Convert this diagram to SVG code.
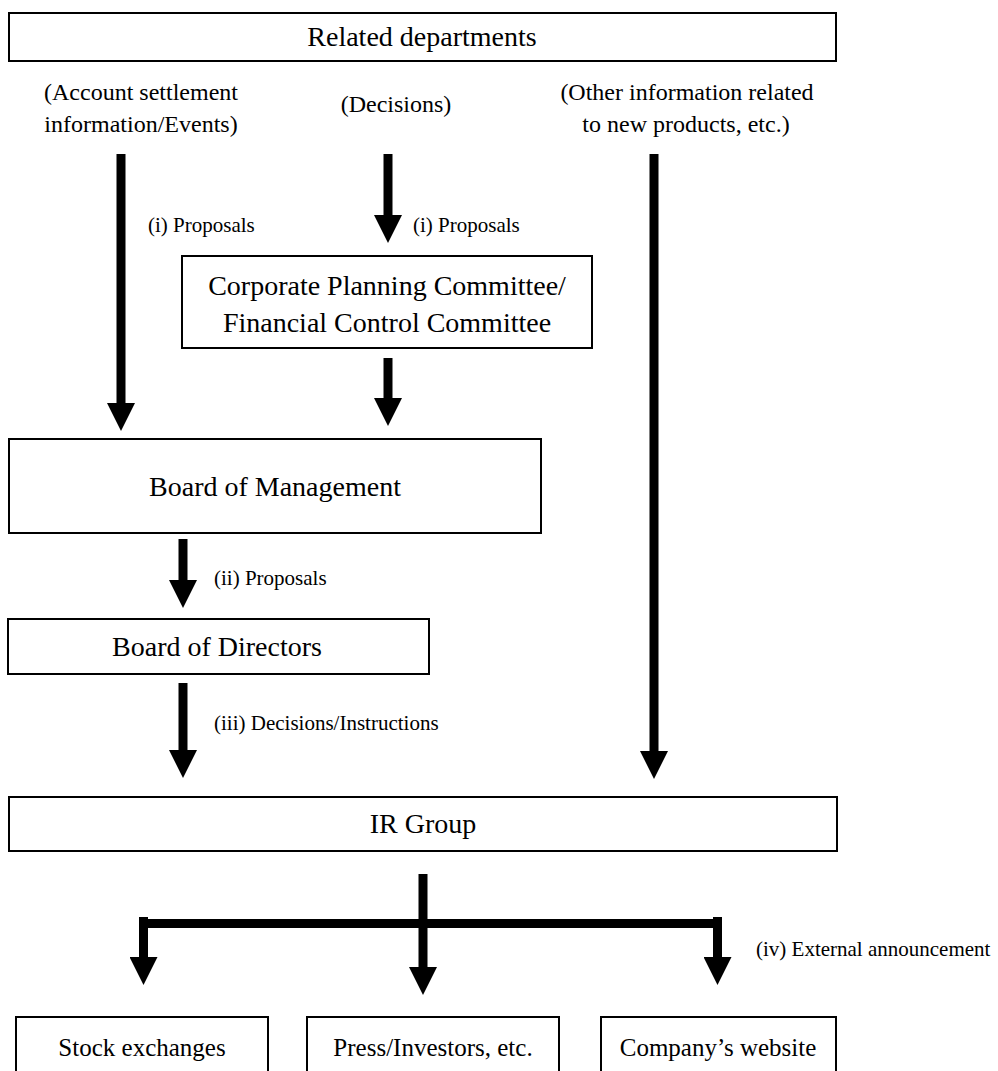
<svg xmlns="http://www.w3.org/2000/svg" width="998" height="1071" viewBox="0 0 998 1071">
<style>
  .box { fill: #ffffff; stroke: #000000; stroke-width: 2; }
  .t { font-family: "Liberation Serif", "Times New Roman", serif; fill: #000000; }
  .main { font-size: 28px; text-anchor: middle; }
  .top { font-size: 24px; text-anchor: middle; }
  .lbl { font-size: 21px; }
  .bot { font-size: 25px; text-anchor: middle; }
  .shaft { stroke: #000000; stroke-width: 9; fill: none; }
</style>
<defs>
  <marker id="head" markerUnits="userSpaceOnUse" markerWidth="28" markerHeight="28" refX="0" refY="14" orient="auto">
    <path d="M0,0 L28,14 L0,28 Z" fill="#000000"/>
  </marker>
</defs>
<rect width="998" height="1071" fill="#ffffff"/>

<g id="related-departments">
  <rect class="box" x="9" y="13" width="827" height="48"/>
  <text class="t main" x="422" y="46">Related departments</text>
</g>

<g id="source-labels">
  <text class="t top" x="141" y="100">(Account settlement</text>
  <text class="t top" x="141" y="132">information/Events)</text>
  <text class="t top" x="396" y="112">(Decisions)</text>
  <text class="t top" x="687" y="100">(Other information related</text>
  <text class="t top" x="686" y="132">to new products, etc.)</text>
</g>

<g id="committee">
  <rect class="box" x="182" y="256" width="410" height="92"/>
  <text class="t main" x="387" y="295">Corporate Planning Committee/</text>
  <text class="t main" x="387" y="332">Financial Control Committee</text>
</g>

<g id="board-of-management">
  <rect class="box" x="9" y="439" width="532" height="94"/>
  <text class="t main" x="275" y="496">Board of Management</text>
</g>

<g id="board-of-directors">
  <rect class="box" x="8" y="619" width="421" height="55"/>
  <text class="t main" x="217" y="656">Board of Directors</text>
</g>

<g id="ir-group">
  <rect class="box" x="9" y="797" width="828" height="54"/>
  <text class="t main" x="423" y="833">IR Group</text>
</g>

<g id="stock-exchanges">
  <rect class="box" x="16" y="1017" width="252" height="70"/>
  <text class="t bot" x="142" y="1056">Stock exchanges</text>
</g>

<g id="press-investors">
  <rect class="box" x="307" y="1017" width="252" height="70"/>
  <text class="t bot" x="433" y="1056">Press/Investors, etc.</text>
</g>

<g id="company-website">
  <rect class="box" x="601" y="1017" width="235" height="70"/>
  <text class="t bot" x="718" y="1056">Company’s website</text>
</g>

<g id="connectors">
  <line class="shaft" x1="121" y1="154" x2="121" y2="403" marker-end="url(#head)"/>
  <line class="shaft" x1="388" y1="154" x2="388" y2="215" marker-end="url(#head)"/>
  <line class="shaft" x1="654" y1="154" x2="654" y2="751" marker-end="url(#head)"/>
  <line class="shaft" x1="388" y1="358" x2="388" y2="398" marker-end="url(#head)"/>
  <line class="shaft" x1="183" y1="539" x2="183" y2="580" marker-end="url(#head)"/>
  <line class="shaft" x1="183" y1="683" x2="183" y2="750" marker-end="url(#head)"/>
  <line class="shaft" x1="423" y1="874" x2="423" y2="967" marker-end="url(#head)"/>
  <line class="shaft" x1="139" y1="923.5" x2="722" y2="923.5"/>
  <line class="shaft" x1="143.5" y1="917" x2="143.5" y2="957" marker-end="url(#head)"/>
  <line class="shaft" x1="717.5" y1="917" x2="717.5" y2="957" marker-end="url(#head)"/>
  <text class="t lbl" x="148" y="232">(i) Proposals</text>
  <text class="t lbl" x="413" y="232">(i) Proposals</text>
  <text class="t lbl" x="214" y="585">(ii) Proposals</text>
  <text class="t lbl" x="214" y="730">(iii) Decisions/Instructions</text>
  <text class="t lbl" x="756" y="956">(iv) External announcement</text>
</g>
</svg>
